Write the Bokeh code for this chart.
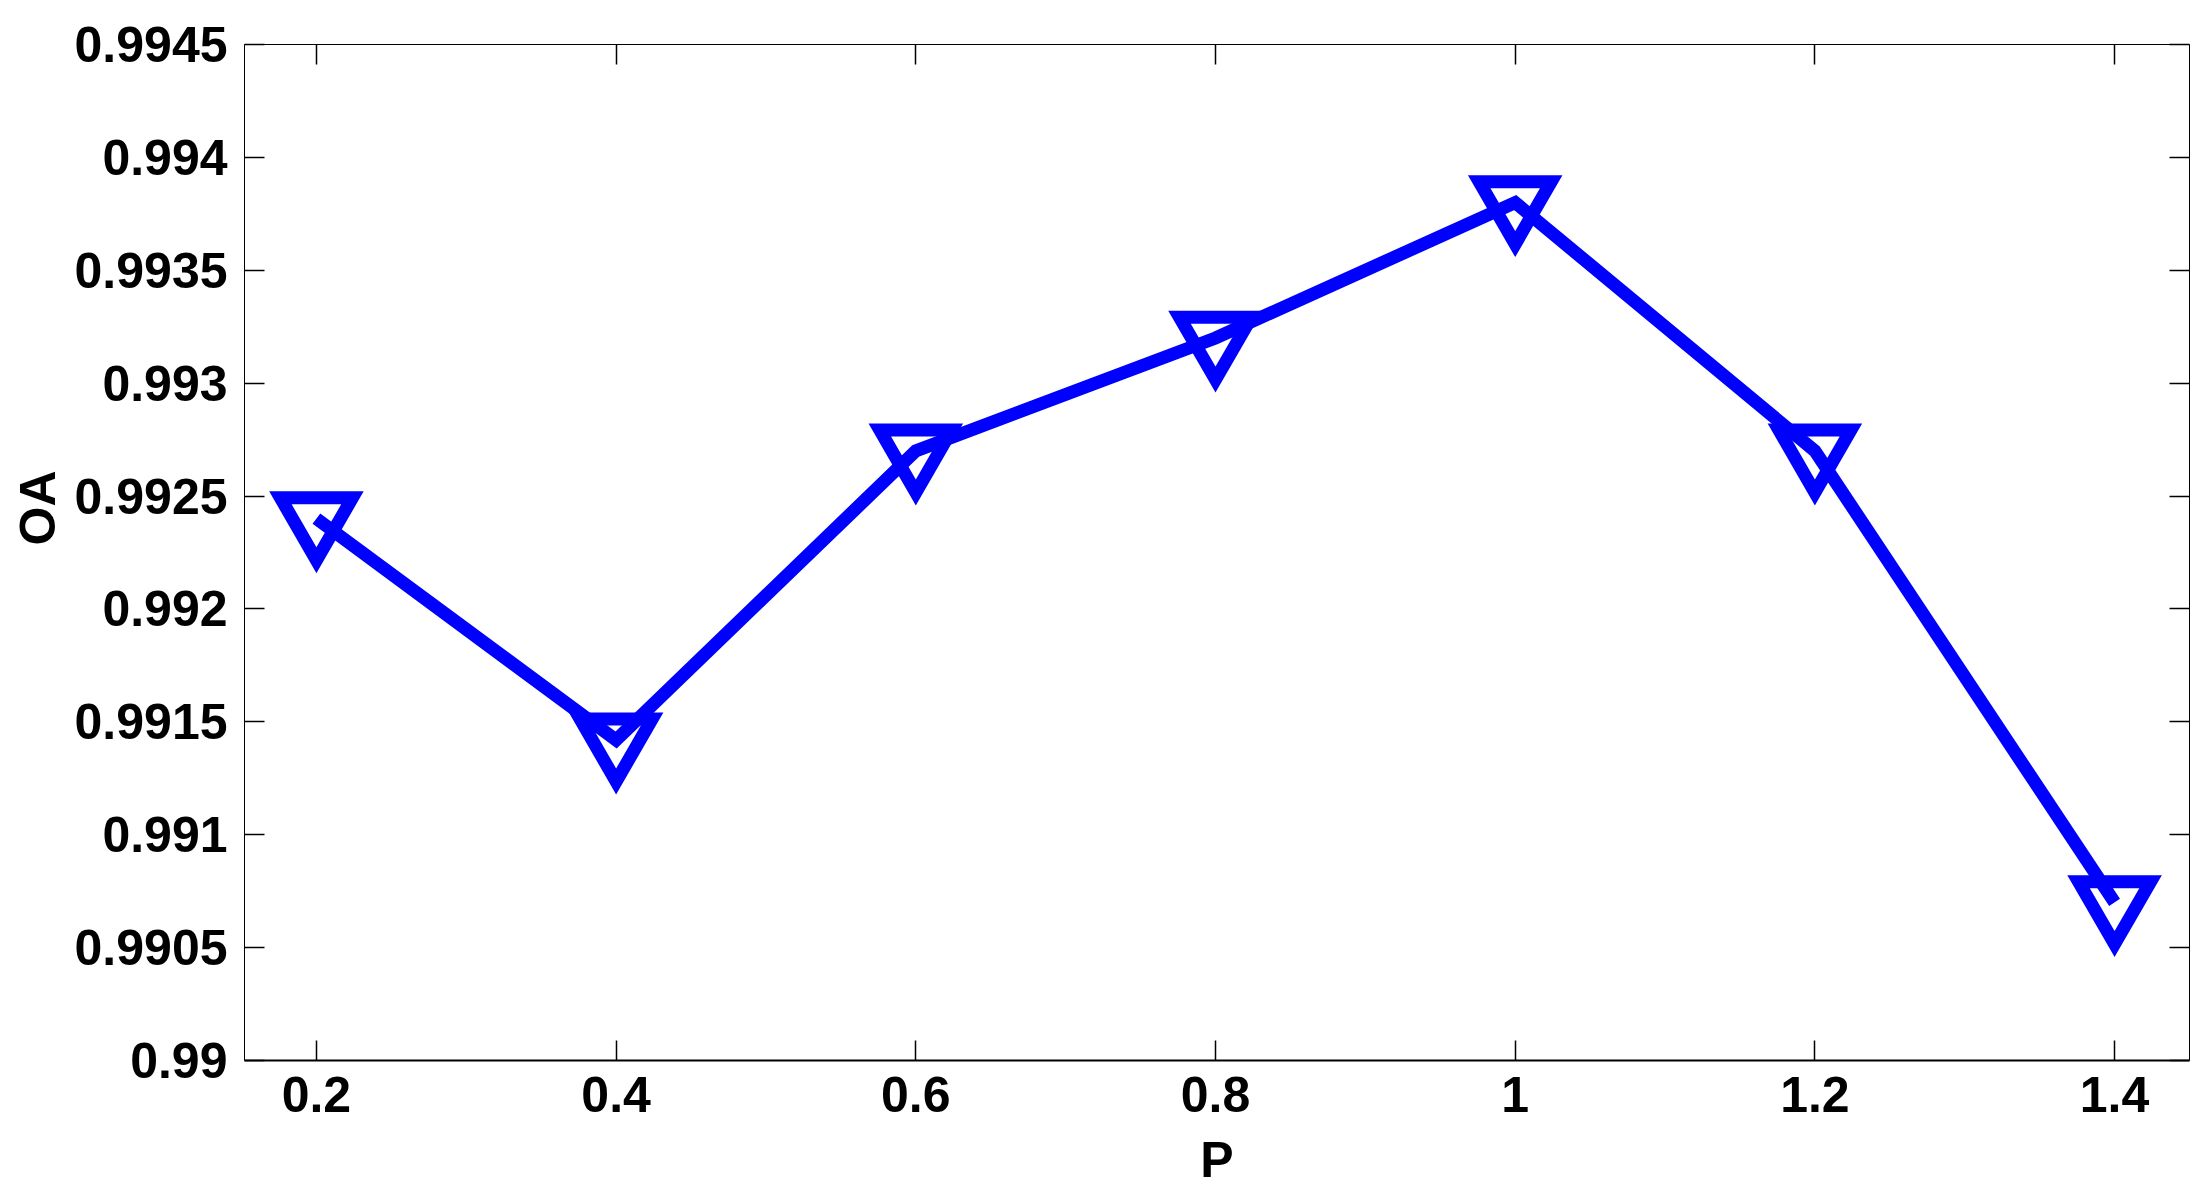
from bokeh.plotting import figure
from bokeh.models import (LinearAxis, FixedTicker, CustomJSTickFormatter, Range1d, Title,
                          CustomLabelingPolicy)
from bokeh.embed import file_html
from bokeh.resources import INLINE

# data
p_values = [0.2, 0.4, 0.6, 0.8, 1.0, 1.2, 1.4]
oa_values = [0.9924, 0.99142, 0.9927, 0.9932, 0.9938, 0.9927, 0.9907]
x_ticks = [0.2, 0.4, 0.6, 0.8, 1.0, 1.2, 1.4]
y_ticks = [0.99, 0.9905, 0.991, 0.9915, 0.992, 0.9925, 0.993, 0.9935, 0.994, 0.9945]

FONT = "Liberation Sans"
FS = "50px"

p = figure(width=2210, height=1190, output_backend="svg", toolbar_location=None,
           x_range=Range1d(0.152, 1.45), y_range=Range1d(0.99, 0.9945),
           x_axis_location=None, y_axis_location=None,
           min_border_left=244, min_border_top=44, min_border_right=21, min_border_bottom=130)
p.outline_line_color = None
p.xgrid.visible = False
p.ygrid.visible = False
p.background_fill_color = "white"
p.border_fill_color = "white"

fmt = CustomJSTickFormatter(code="return parseFloat(tick.toFixed(4)).toString();")
blank_fmt = CustomJSTickFormatter(code="return '';")
no_labels = CustomLabelingPolicy(code="return new Set();")

def style(ax, ticks, show_labels, lw):
    ax.ticker = FixedTicker(ticks=ticks)
    ax.major_tick_in = 20
    ax.major_tick_out = 0
    ax.minor_tick_line_color = None
    ax.axis_line_color = "black"
    ax.axis_line_width = lw
    ax.major_tick_line_color = "black"
    ax.major_tick_line_width = 1.5
    ax.major_label_text_font = FONT
    ax.major_label_text_font_style = "bold"
    ax.major_label_text_color = "black"
    if show_labels:
        ax.formatter = fmt
        ax.major_label_text_font_size = FS
    else:
        ax.formatter = blank_fmt
        ax.major_label_text_font_size = "1px"
        ax.major_label_policy = no_labels
        ax.major_label_standoff = 0

bottom = LinearAxis()
style(bottom, x_ticks, True, 2)
bottom.major_label_standoff = 16
bottom.axis_label = "P"
bottom.axis_label_text_font = FONT
bottom.axis_label_text_font_size = FS
bottom.axis_label_text_font_style = "bold"
bottom.axis_label_text_color = "black"
bottom.axis_label_standoff = 17
p.add_layout(bottom, "below")

top = LinearAxis()
style(top, x_ticks, False, 1)
p.add_layout(top, "above")

left = LinearAxis()
style(left, y_ticks, True, 1)
left.major_label_standoff = 17
p.add_layout(left, "left")

right = LinearAxis()
style(right, y_ticks, False, 1)
p.add_layout(right, "right")

oa_title = Title(text="OA", align="left", offset=515, standoff=12,
                 text_font=FONT, text_font_size=FS, text_font_style="bold",
                 text_color="black")
p.add_layout(oa_title, "left")

p.line(p_values, oa_values, line_color="#0000FF", line_width=13, line_join="miter")
p.scatter(p_values, oa_values, marker="inverted_triangle", size=72,
          fill_color=None, line_color="#0000FF", line_width=13, line_join="miter")

open("out.html", "w").write(file_html(p, INLINE))
